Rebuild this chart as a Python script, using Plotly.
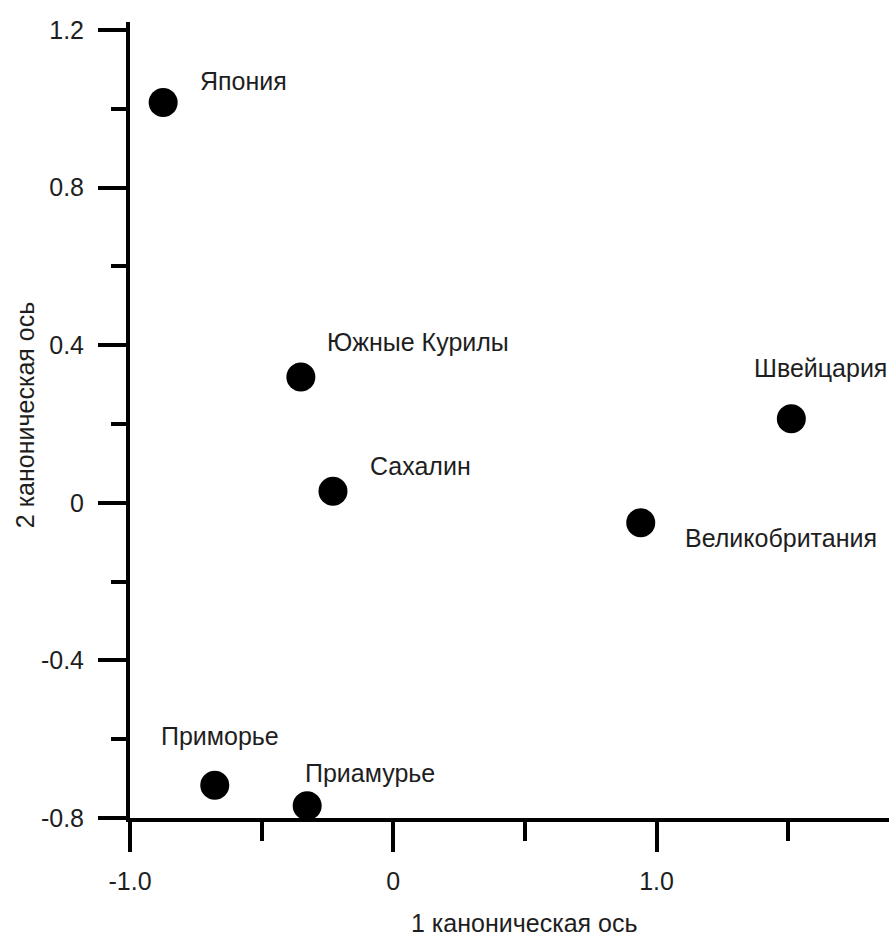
import plotly.graph_objects as go

# ---- data ----
regions = ["Япония", "Южные Курилы", "Сахалин", "Швейцария",
           "Великобритания", "Приморье", "Приамурье"]
axis1 = [-0.874, -0.351, -0.229, 1.512, 0.940, -0.678, -0.327]
axis2 = [1.016, 0.319, 0.029, 0.213, -0.051, -0.717, -0.769]

x_tickvals = [-1.0, 0.0, 1.0]
x_ticktext = ["-1.0", "0", "1.0"]
y_tickvals = [-0.8, -0.4, 0.0, 0.4, 0.8, 1.2]
y_ticktext = ["-0.8", "-0.4", "0", "0.4", "0.8", "1.2"]

x_title = "1 каноническая ось"
y_title = "2 каноническая ось"

# ---- label placement (pixel offsets from each point: left edge, vertical) ----
label_dx = [35, 24, 35, -39, 42, -56, -4]
label_dy = [21, 35, 25, 51, -15, 49, 33]

FONT = "Liberation Sans, Arial, sans-serif"
TXT = "#1e1e1e"

fig = go.Figure()
fig.add_trace(go.Scatter(
    x=axis1, y=axis2, mode="markers",
    marker=dict(size=29, color="black", line=dict(width=0)),
    cliponaxis=False, showlegend=False, hoverinfo="skip",
))

annotations = []
for name, xv, yv, dx, dy in zip(regions, axis1, axis2, label_dx, label_dy):
    annotations.append(dict(
        x=xv, y=yv, xref="x", yref="y", text=name, showarrow=False,
        xanchor="left", yanchor="middle", xshift=dx, yshift=dy,
        font=dict(family=FONT, size=25, color=TXT),
    ))

annotations.append(dict(
    x=0.519, y=0, xref="paper", yref="paper", text=x_title, showarrow=False,
    xanchor="center", yanchor="middle", yshift=-105, borderpad=0,
    font=dict(family=FONT, size=25, color=TXT),
))
annotations.append(dict(
    x=0, y=0.506, xref="paper", yref="paper", text=y_title, showarrow=False,
    xanchor="center", yanchor="middle", xshift=-105, textangle=-90,
    font=dict(family=FONT, size=25, color=TXT),
))

axis_common = dict(
    showgrid=False, zeroline=False, showline=True, linecolor="black",
    linewidth=4, ticks="outside", tickcolor="black", tickwidth=4,
    tickfont=dict(family=FONT, size=25, color=TXT),
)

fig.update_layout(
    width=889, height=938,
    margin=dict(l=130, r=0, t=22, b=120),
    paper_bgcolor="white", plot_bgcolor="white",
    xaxis=dict(range=[-1.0, 1.883], tickmode="array", tickvals=x_tickvals,
               ticktext=x_ticktext, ticklen=30, ticklabelstandoff=8,
               minor=dict(tickmode="array", tickvals=[-0.5, 0.5, 1.5],
                          ticks="outside", ticklen=19, tickwidth=4,
                          tickcolor="black", showgrid=False),
               **axis_common),
    yaxis=dict(range=[-0.8, 1.22], tickmode="array", tickvals=y_tickvals,
               ticktext=y_ticktext, ticklen=28, ticklabelstandoff=9,
               minor=dict(tickmode="array", tickvals=[-0.6, -0.2, 0.2, 0.6, 1.0],
                          ticks="outside", ticklen=15, tickwidth=4,
                          tickcolor="black", showgrid=False),
               **axis_common),
    annotations=annotations,
)

fig.write_html("out.html",
               config={"displayModeBar": False},
               post_script="document.body.style.margin='0';"
                           "document.body.style.overflow='hidden';")
